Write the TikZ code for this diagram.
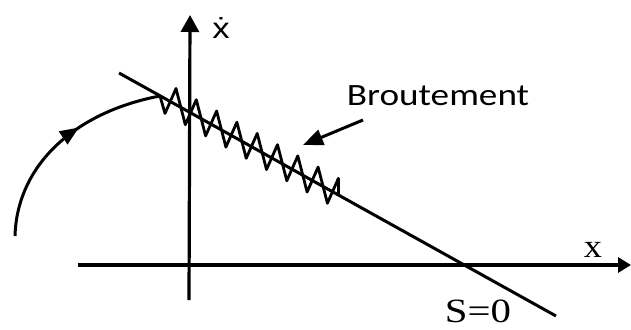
\documentclass[tikz,border=0pt]{standalone}
\usepackage{fontspec}
\setmainfont{Liberation Serif}
\newfontfamily\arialf{Liberation Sans}
\newfontfamily\calib{Carlito}
\usetikzlibrary{arrows.meta,decorations.markings}
\begin{document}
\begin{tikzpicture}[x=1pt,y=-1pt,
  axisline/.style={line width=3.2pt},
  slideline/.style={line width=3pt},
  zig/.style={line width=2.8pt, line join=round},
  traj/.style={line width=3pt, postaction={decorate},
    decoration={markings, mark=at position 0.6 with {\arrow{Triangle[length=19pt,width=15pt]}}}},
  lbl/.style={anchor=base, inner sep=0pt}]
\useasboundingbox (0,0) rectangle (631,329);
% axes
\coordinate (vb) at (189,300);
\coordinate (vt) at (190,15);
\coordinate (hl) at (78,265);
\coordinate (hr) at (631,265);
\draw[axisline, -{Triangle[length=17pt,width=18pt]}] (vb) -- (vt);
\draw[axisline, -{Triangle[length=13pt,width=15pt]}] (hl) -- (hr);
% sliding surface
\coordinate (s1) at (119,73);
\coordinate (s2) at (556,316);
\draw[slideline] (s1) -- (s2);
% trajectory
\coordinate (t0) at (15,236);
\coordinate (zs) at (160,96);
\draw[traj] (t0) .. controls (17,165) and (75,112) .. (zs);
% chattering
\coordinate (ze) at (338.4,194.3);
\draw[zig] (zs) \foreach \k in {0,...,8} {
  -- ({165+20.3*\k}, {73+0.553*(165+20.3*\k-119)+15})
  -- ({176+20.3*\k}, {73+0.553*(176+20.3*\k-119)-16}) } -- (ze);
% label arrow
\coordinate (bt) at (363,120);
\coordinate (bh) at (303,145);
\draw[line width=3pt, -{Triangle[length=20pt,width=16pt]}] (bt) -- (bh);
% labels
\node[lbl, font=\arialf\fontsize{29}{29}\selectfont] (xd) at (221,38) {\scalebox{1.2}[1]{ẋ}};
\node[lbl, font=\calib\fontsize{31}{31}\selectfont] (br) at (438,105) {\scalebox{1.2}[1]{Broutement}};
\node[lbl, font=\fontsize{33}{33}\selectfont] (xl) at (593,257) {\scalebox{1.1}[1]{x}};
\node[lbl, font=\fontsize{34}{34}\selectfont] (s0) at (478,322) {\scalebox{1.2}[1]{S=0}};
\end{tikzpicture}
\end{document}
